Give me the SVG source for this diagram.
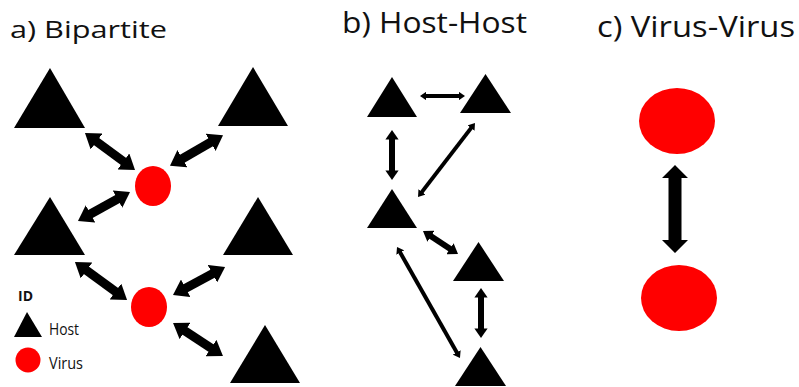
<svg xmlns="http://www.w3.org/2000/svg" width="799" height="387" viewBox="0 0 799 387">
  <style>
    .title { font-family: "Open Sans", "Liberation Sans", sans-serif; fill: #111; }
    .legend { font-family: "Open Sans", "Liberation Sans", sans-serif; fill: #111; }
    .host { fill: #000; }
    .virus { fill: #ff0000; }
    .link { stroke: #000; fill: none; stroke-linecap: butt; marker-start: url(#head); marker-end: url(#head); }
    .w9 { stroke-width: 9; }
    .w6 { stroke-width: 6; }
    .w4 { stroke-width: 4; }
  </style>
  <defs>
    <!-- arrowhead sized in stroke-width units; tip sits 1.3 widths past the line end -->
    <marker id="head" viewBox="0 -1.1 1.6 2.2" markerWidth="1.6" markerHeight="2.2" refX="0.3" refY="0" orient="auto-start-reverse" markerUnits="strokeWidth">
      <path d="M0,-1.1 L1.6,0 L0,1.1 z" fill="#000"/>
    </marker>
  </defs>

  <rect width="799" height="387" fill="#fff"/>

  <!-- panel titles -->
  <text class="title" x="10" y="38" font-size="24" textLength="157" lengthAdjust="spacingAndGlyphs">a) Bipartite</text>
  <text class="title" x="342" y="33" font-size="29" textLength="185" lengthAdjust="spacingAndGlyphs">b) Host-Host</text>
  <text class="title" x="597" y="37" font-size="29" textLength="198" lengthAdjust="spacingAndGlyphs">c) Virus-Virus</text>

  <!-- a) bipartite nodes -->
  <g id="a-host-1"><polygon class="host" points="50,68 85,128 14,128"/></g>
  <g id="a-host-2"><polygon class="host" points="253,67 288,126 218,126"/></g>
  <g id="a-host-3"><polygon class="host" points="50,197 85,255 14,255"/></g>
  <g id="a-host-4"><polygon class="host" points="258,197 293,255 223,255"/></g>
  <g id="a-host-5"><polygon class="host" points="265,325 300,383 230,383"/></g>
  <g id="a-virus-1"><ellipse class="virus" cx="153" cy="186" rx="18" ry="20"/></g>
  <g id="a-virus-2"><ellipse class="virus" cx="149" cy="307" rx="18" ry="20"/></g>

  <!-- legend -->
  <g id="legend">
    <text class="legend" x="18" y="300.5" font-size="14" font-weight="bold">ID</text>
    <polygon class="host" points="27,312 42,337 14,337"/>
    <text class="legend" x="49" y="335" font-size="16" textLength="30" lengthAdjust="spacingAndGlyphs">Host</text>
    <circle class="virus" cx="28" cy="360" r="12.5"/>
    <text class="legend" x="49" y="369" font-size="16" textLength="34" lengthAdjust="spacingAndGlyphs">Virus</text>
  </g>

  <!-- b) host-host nodes -->
  <g id="b-host-1"><polygon class="host" points="392,77 417,117 367,117"/></g>
  <g id="b-host-2"><polygon class="host" points="485.5,74 511,113 460,113"/></g>
  <g id="b-host-3"><polygon class="host" points="392,189 417,228 367,228"/></g>
  <g id="b-host-4"><polygon class="host" points="478.5,242 504,281 453,281"/></g>
  <g id="b-host-5"><polygon class="host" points="480.5,347 506,386 455,386"/></g>

  <!-- c) virus-virus nodes -->
  <g id="c-virus-1"><ellipse class="virus" cx="677" cy="121" rx="38" ry="33"/></g>
  <g id="c-virus-2"><ellipse class="virus" cx="679" cy="298" rx="38" ry="33"/></g>

  <!-- connectors -->
  <g id="connectors">
    <!-- a) -->
    <line class="link w9" x1="94.4" y1="140.0" x2="125.6" y2="163.0"/>
    <line class="link w9" x1="212.9" y1="141.0" x2="180.1" y2="160.0"/>
    <line class="link w9" x1="119.8" y1="197.7" x2="88.2" y2="215.3"/>
    <line class="link w9" x1="84.4" y1="268.9" x2="117.6" y2="293.1"/>
    <line class="link w9" x1="214.8" y1="272.5" x2="183.3" y2="289.5"/>
    <line class="link w9" x1="182.8" y1="329.4" x2="213.2" y2="349.6"/>
    <!-- b) -->
    <line class="link w4" x1="425.2" y1="96" x2="459.8" y2="96"/>
    <line class="link w6" x1="392" y1="137.8" x2="392" y2="172.2"/>
    <line class="link w4" x1="471.8" y1="127.1" x2="421.2" y2="192.9"/>
    <line class="link w6" x1="429.5" y1="235.3" x2="451.5" y2="249.7"/>
    <line class="link w6" x1="481" y1="295.8" x2="481" y2="330.2"/>
    <line class="link w4" x1="399.6" y1="251.5" x2="457.4" y2="353.5"/>
    <!-- c) -->
    <polygon fill="#000" points="675,165 688,178 681.5,178 681.5,240 688,240 675,253 662,240 668.5,240 668.5,178 662,178"/>
  </g>
</svg>
